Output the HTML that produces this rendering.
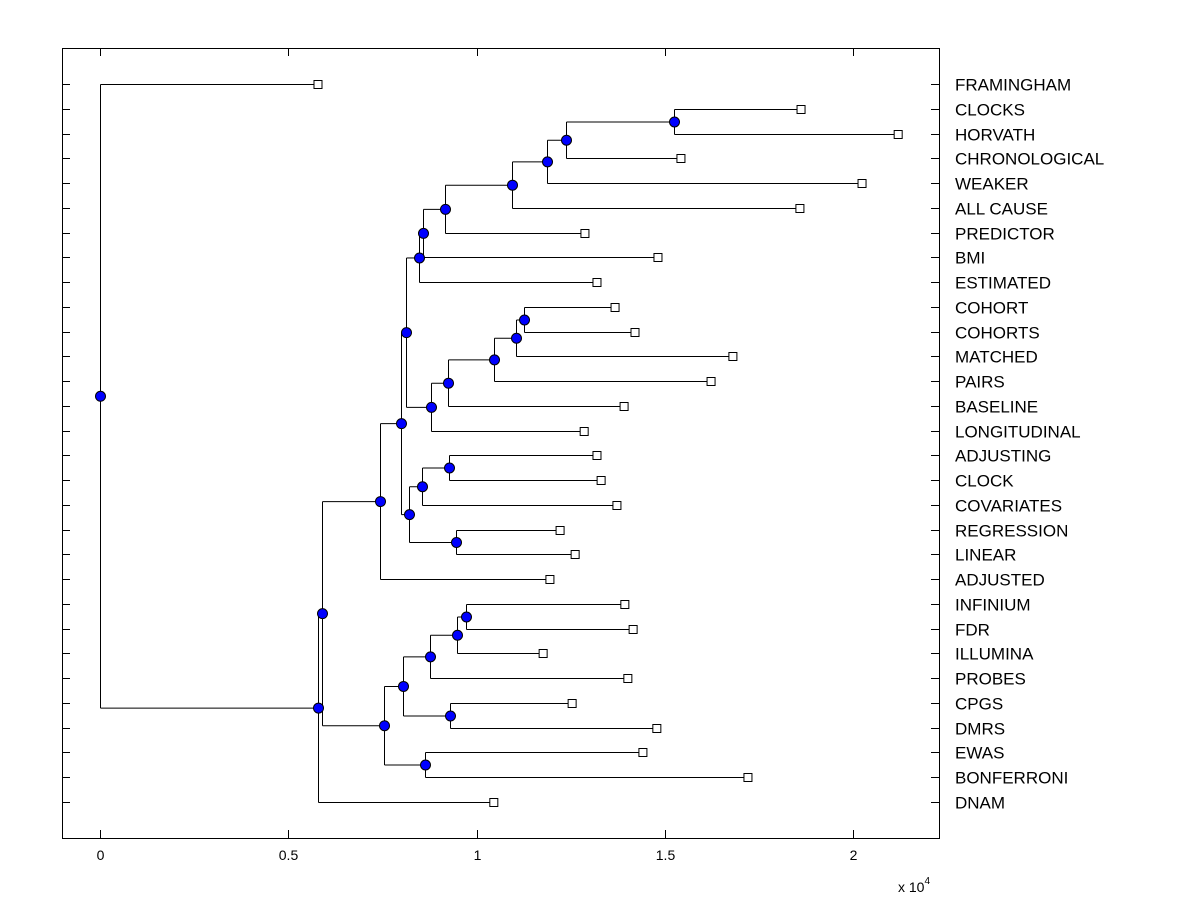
<!DOCTYPE html>
<html><head><meta charset="utf-8"><style>
html,body{margin:0;padding:0;background:#fff;}
svg{display:block;font-family:"Liberation Sans",Arial,sans-serif;}
</style></head><body>
<svg id="chart" width="1200" height="900">
<rect x="0" y="0" width="1200" height="900" fill="#fff"/>
<g id="g-axes"></g><g id="g-links"></g><g id="g-marks"></g><g id="g-labels"></g>
</svg>
<script>
const leafNames = ["FRAMINGHAM","CLOCKS","HORVATH","CHRONOLOGICAL","WEAKER","ALL CAUSE","PREDICTOR","BMI","ESTIMATED","COHORT","COHORTS","MATCHED","PAIRS","BASELINE","LONGITUDINAL","ADJUSTING","CLOCK","COVARIATES","REGRESSION","LINEAR","ADJUSTED","INFINIUM","FDR","ILLUMINA","PROBES","CPGS","DMRS","EWAS","BONFERRONI","DNAM"];
const leafValues = [5790,18620,21200,15430,20240,18590,12880,14820,13200,13680,14210,16810,16230,13920,12860,13200,13310,13730,12220,12620,11950,13940,14160,11770,14020,12540,14790,14420,17210,10460];
const nodeDefs = [
 ["n-clocks-horvath",15246,"CLOCKS","HORVATH"],
 ["n-chrono",12377,"n-clocks-horvath","CHRONOLOGICAL"],
 ["n-weaker",11873,"n-chrono","WEAKER"],
 ["n-allcause",10943,"n-weaker","ALL CAUSE"],
 ["n-predictor",9163,"n-allcause","PREDICTOR"],
 ["n-bmi",8579,"n-predictor","BMI"],
 ["n-estimated",8473,"n-bmi","ESTIMATED"],
 ["n-cohort",11262,"COHORT","COHORTS"],
 ["n-matched",11049,"n-cohort","MATCHED"],
 ["n-pairs",10465,"n-matched","PAIRS"],
 ["n-baseline",9243,"n-pairs","BASELINE"],
 ["n-longitudinal",8792,"n-baseline","LONGITUDINAL"],
 ["n-upper",8127,"n-estimated","n-longitudinal"],
 ["n-adjusting",9270,"ADJUSTING","CLOCK"],
 ["n-covariates",8552,"n-adjusting","COVARIATES"],
 ["n-regression",9456,"REGRESSION","LINEAR"],
 ["n-mid",8207,"n-covariates","n-regression"],
 ["n-upper2",7995,"n-upper","n-mid"],
 ["n-adjusted",7437,"n-upper2","ADJUSTED"],
 ["n-infinium",9721,"INFINIUM","FDR"],
 ["n-illumina",9482,"n-infinium","ILLUMINA"],
 ["n-probes",8765,"n-illumina","PROBES"],
 ["n-cpgs",9296,"CPGS","DMRS"],
 ["n-lower1",8048,"n-probes","n-cpgs"],
 ["n-ewas",8632,"EWAS","BONFERRONI"],
 ["n-lower",7543,"n-lower1","n-ewas"],
 ["n-big",5896,"n-adjusted","n-lower"],
 ["n-dnam",5790,"n-big","DNAM"],
 ["n-root",0,"FRAMINGHAM","n-dnam"]
];
const xTicks = [0,5000,10000,15000,20000];
const xTickLabels = ["0","0.5","1","1.5","2"];

const NS="http://www.w3.org/2000/svg";
const L=62,R=939,T=48,B=838;
const xs=v=>100+v*0.03765;
const ys=i=>84+i*(802-84)/29;
function mk(tag,attrs,parent){const e=document.createElementNS(NS,tag);for(const k in attrs)e.setAttribute(k,attrs[k]);document.getElementById(parent).appendChild(e);return e;}

let e=mk("rect",{x:L+0.5,y:T+0.5,width:R-L,height:B-T,fill:"none",stroke:"#000","stroke-width":1},"g-axes");


xTicks.forEach((t,i)=>{
  const x=Math.round(xs(t))+0.5;
  let a=mk("line",{x1:x,x2:x,y1:B,y2:B-8,stroke:"#000"},"g-axes");
  
  
  let b=mk("line",{x1:x,x2:x,y1:T,y2:T+8,stroke:"#000"},"g-axes");
  
  
  let tx=mk("text",{x:x,y:860,"text-anchor":"middle","font-size":14},"g-axes");
  tx.textContent=xTickLabels[i];
  
  
});
let ex=mk("text",{x:898,y:892,"font-size":14},"g-axes");
ex.innerHTML='x 10<tspan dy="-8" font-size="10">4</tspan>';



const pos={};
leafNames.forEach((n,i)=>{
  const y=Math.round(ys(i))+0.5;
  pos[n]={x:xs(leafValues[i]),y:y};
  let a=mk("line",{x1:L,x2:L+8,y1:y,y2:y,stroke:"#000"},"g-axes");
  
  
  let b=mk("line",{x1:R-8,x2:R,y1:y,y2:y,stroke:"#000"},"g-axes");
  
  
  let t=mk("text",{x:955,y:y+6,"font-size":17},"g-labels");
  t.textContent=n;
  
  
});
nodeDefs.forEach(d=>{
  const [name,v,c1,c2]=d;
  const x=Math.round(xs(v))+0.5;
  const p1=pos[c1],p2=pos[c2];
  pos[name]={x:x,y:(p1.y+p2.y)/2};
  let vl=mk("line",{x1:x,x2:x,y1:p1.y,y2:p2.y,stroke:"#000"},"g-links");
  
  
  [p1,p2].forEach(p=>{
    let h=mk("line",{x1:x,x2:p.x,y1:p.y,y2:p.y,stroke:"#000"},"g-links");
    
    
  });
});
leafNames.forEach(n=>{
  const p=pos[n];
  let r=mk("rect",{x:p.x-4,y:p.y-4,width:8,height:8,fill:"#fff",stroke:"#000"},"g-marks");
  
  
});
nodeDefs.forEach(d=>{
  const p=pos[d[0]];
  let c=mk("circle",{cx:p.x,cy:p.y,r:5,fill:"#0000ff",stroke:"#000","stroke-width":1},"g-marks");
  
  
});
</script>
</body></html>
